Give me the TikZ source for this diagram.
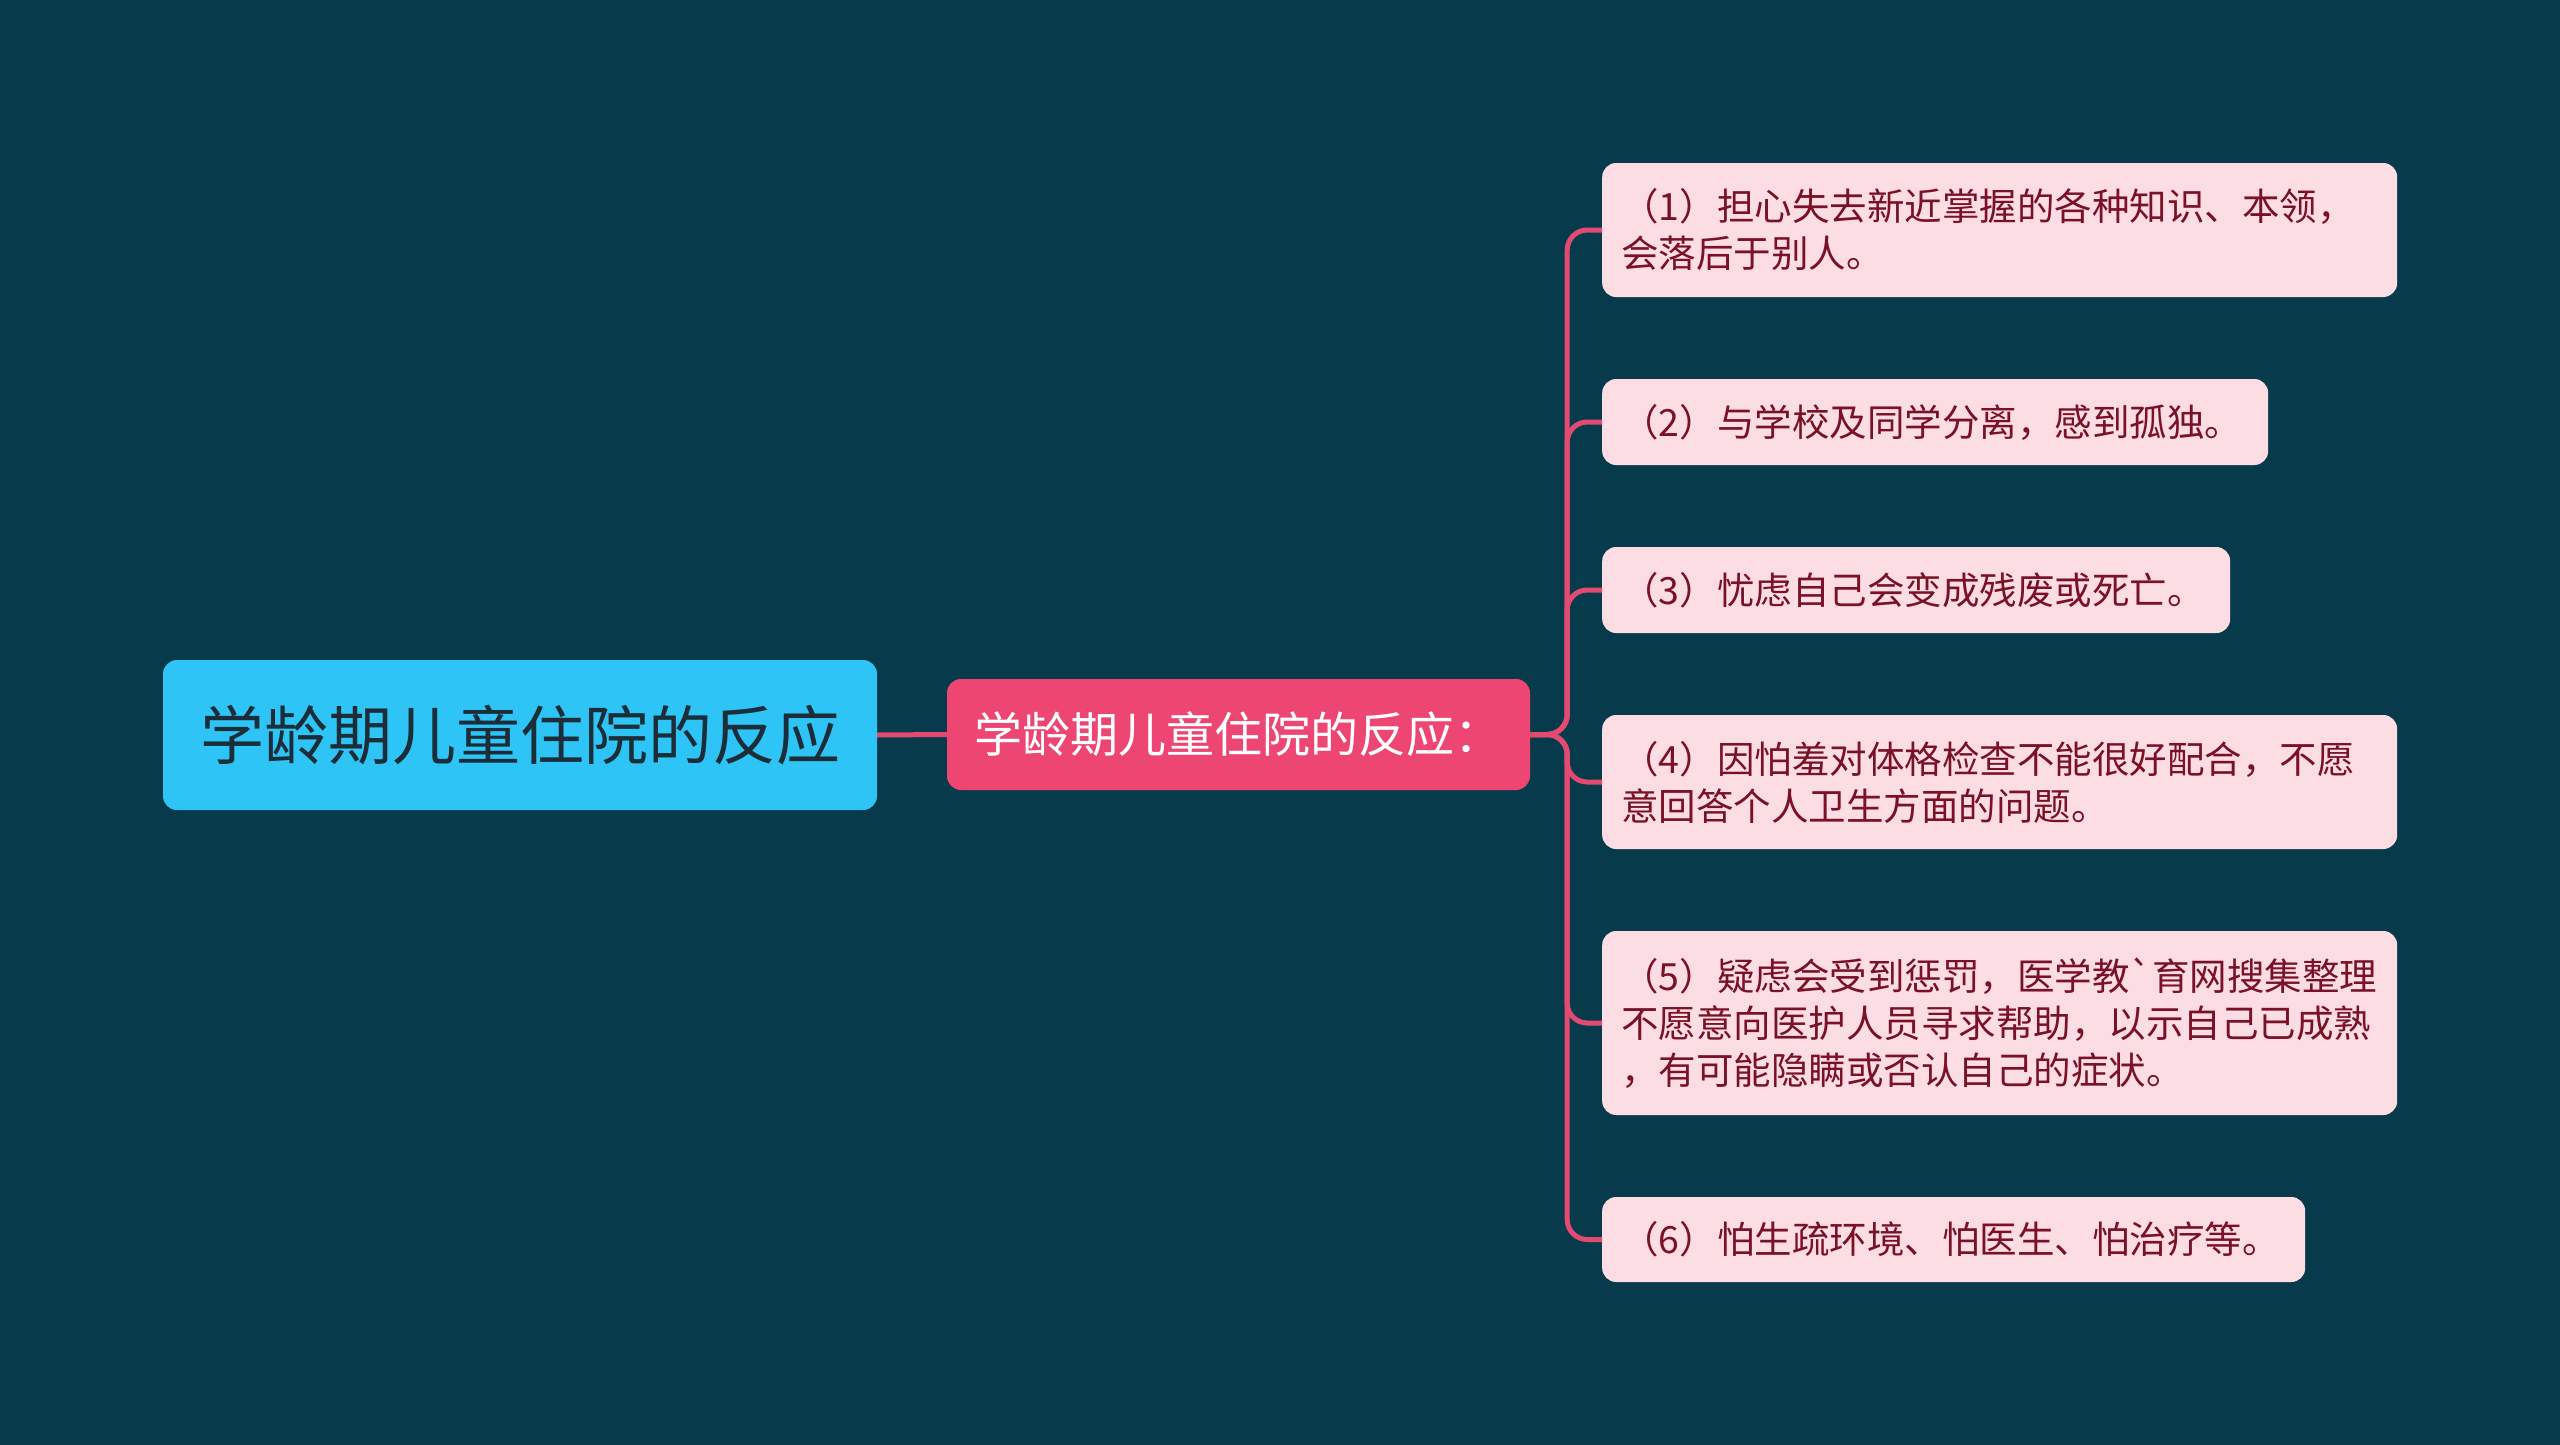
\documentclass[tikz,border=0pt]{standalone}
\usepackage{fontspec}
\setmainfont{Noto Sans CJK SC}[Ligatures=TeXOff]
\usetikzlibrary{calc}
\definecolor{bg}{HTML}{073B4C}
\definecolor{rootfill}{HTML}{2EC4F5}
\definecolor{roottext}{HTML}{1A2D38}
\definecolor{midfill}{HTML}{EE4673}
\definecolor{leaffill}{HTML}{FCDDE3}
\definecolor{leaftext}{HTML}{7A1126}
\definecolor{conn}{HTML}{E24A72}
\begin{document}
\begin{tikzpicture}[x=1pt,y=-1pt,
  rootbox/.style={rectangle,rounded corners=14pt,fill=rootfill,text=roottext,
    minimum width=714pt,minimum height=150pt,inner sep=0pt,
    font=\fontsize{64}{76}\selectfont},
  midbox/.style={rectangle,rounded corners=14pt,fill=midfill,text=white,
    minimum width=583pt,minimum height=111pt,inner sep=0pt,
    font=\fontsize{48}{58}\selectfont},
  leafbox/.style={rectangle,rounded corners=14pt,fill=leaffill,text=leaftext,
    anchor=west,align=left,inner xsep=19pt,inner ysep=0pt,
    font=\fontsize{37.5}{47}\selectfont},
  connline/.style={draw=conn,line width=5pt,rounded corners=20pt}
]
\fill[bg] (0,0) rectangle (2560,1445);
\useasboundingbox (0,0) rectangle (2560,1445);

\node[rootbox] (root) at (520,735) {学龄期儿童住院的反应};
\node[midbox] (mid) at (1238.5,734.5) {学龄期儿童住院的反应：};

\node[leafbox,text width=757pt,minimum height=134pt] (l1) at (1602,230)
  {（1）担心失去新近掌握的各种知识、本领，\\会落后于别人。};
\node[leafbox,text width=628pt,minimum height=86pt] (l2) at (1602,422)
  {（2）与学校及同学分离，感到孤独。};
\node[leafbox,text width=590pt,minimum height=86pt] (l3) at (1602,590)
  {（3）忧虑自己会变成残废或死亡。};
\node[leafbox,text width=757pt,minimum height=134pt] (l4) at (1602,782)
  {（4）因怕羞对体格检查不能很好配合，不愿\\意回答个人卫生方面的问题。};
\node[leafbox,text width=757pt,minimum height=184pt] (l5) at (1602,1023)
  {（5）疑虑会受到惩罚，医学教`育网搜集整理\\不愿意向医护人员寻求帮助，以示自己已成熟\\，有可能隐瞒或否认自己的症状。};
\node[leafbox,text width=665pt,minimum height=85pt] (l6) at (1602,1239.5)
  {（6）怕生疏环境、怕医生、怕治疗等。};

\coordinate (j) at ($(mid.east)+(37,0)$);

\draw[connline] (root.east) -- (mid.west);
\foreach \l in {l1,l2,l3,l4,l5,l6}{
  \draw[connline] (mid.east) -- (j) |- (\l.west);
}
\end{tikzpicture}
\end{document}
